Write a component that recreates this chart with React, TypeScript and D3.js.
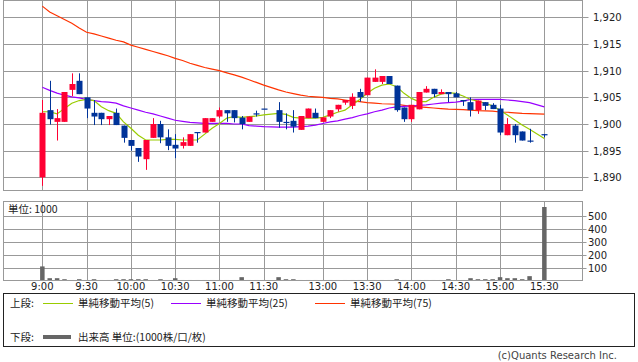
import React, { useRef, useEffect } from 'react'
import * as d3 from 'd3'

// 5-minute bars (morning 9:00-11:30, afternoon 12:30-15:30)
const times = [
  '9:00', '9:05', '9:10', '9:15', '9:20', '9:25', '9:30', '9:35', '9:40', '9:45', '9:50', '9:55',
  '10:00', '10:05', '10:10', '10:15', '10:20', '10:25', '10:30', '10:35', '10:40', '10:45', '10:50', '10:55',
  '11:00', '11:05', '11:10', '11:15', '11:20', '11:25', '11:30',
  '12:30', '12:35', '12:40', '12:45', '12:50', '12:55',
  '13:00', '13:05', '13:10', '13:15', '13:20', '13:25', '13:30', '13:35', '13:40', '13:45', '13:50', '13:55',
  '14:00', '14:05', '14:10', '14:15', '14:20', '14:25', '14:30', '14:35', '14:40', '14:45', '14:50', '14:55',
  '15:00', '15:05', '15:10', '15:15', '15:20', '15:30'
]

const opens = [
  1890.0, 1902.6, 1900.4, 1900.4, 1906.4, 1908.1, 1905.0, 1902.1, 1902.1, 1900.9, 1902.1, 1899.7,
  1897.0, 1895.5, 1893.4, 1897.4, 1900.0, 1897.5, 1896.1, 1895.9, 1895.9, 1898.5, 1898.4, 1900.4,
  1901.4, 1902.6, 1902.6, 1901.2, 1900.4, 1902.0, 1902.9,
  1902.6, 1900.4, 1900.6, 1898.9, 1901.1, 1902.1,
  1900.4, 1901.4, 1902.75, 1904.0, 1903.4, 1906.0, 1905.4, 1907.9, 1907.9, 1909.0, 1907.2, 1903.1,
  1900.9, 1902.75, 1905.9, 1906.6, 1905.6, 1906.0, 1905.75, 1904.5, 1904.1, 1902.6, 1904.1, 1903.6,
  1902.9, 1897.9, 1899.7, 1898.6, 1896.9, 1898.1
]
const highs = [
  1904.5, 1908.1, 1902.8, 1906.0, 1909.5, 1909.5, 1905.0, 1904.5, 1902.1, 1901.5, 1902.9, 1899.7,
  1897.0, 1895.5, 1897.0, 1901.1, 1900.6, 1899.0, 1898.1, 1897.5, 1898.1, 1898.5, 1901.1, 1901.1,
  1903.1, 1902.6, 1902.6, 1901.5, 1901.4, 1902.5, 1902.9,
  1904.1, 1902.0, 1902.6, 1901.5, 1902.9, 1902.9,
  1901.25, 1902.6, 1903.6, 1904.5, 1905.75, 1906.6, 1908.7, 1910.25, 1909.0, 1909.0, 1907.2, 1903.1,
  1903.6, 1906.0, 1907.1, 1906.6, 1906.5, 1906.0, 1906.0, 1904.5, 1905.0, 1904.4, 1904.1, 1903.9,
  1903.6, 1901.1, 1900.0, 1898.6, 1899.1, 1898.1
]
const lows = [
  1888.4, 1899.9, 1896.9, 1900.4, 1905.2, 1905.6, 1901.1, 1899.8, 1899.8, 1899.8, 1899.8, 1896.5,
  1895.0, 1892.9, 1891.4, 1897.4, 1896.4, 1895.1, 1893.6, 1895.4, 1895.9, 1896.5, 1898.4, 1900.4,
  1901.1, 1900.4, 1900.3, 1899.0, 1900.4, 1901.4, 1902.9,
  1899.3, 1899.0, 1898.4, 1898.9, 1901.1, 1901.1,
  1900.4, 1901.1, 1902.3, 1903.6, 1902.8, 1904.2, 1905.4, 1907.9, 1907.5, 1907.5, 1902.3, 1900.4,
  1900.4, 1902.75, 1905.9, 1905.0, 1905.6, 1904.1, 1905.0, 1903.4, 1901.4, 1901.9, 1902.6, 1902.8,
  1897.9, 1897.9, 1896.5, 1896.9, 1896.5, 1897.5
]
const closes = [
  1902.1, 1900.9, 1901.1, 1906.0, 1907.5, 1905.6, 1902.9, 1901.4, 1900.9, 1901.5, 1899.8, 1897.4,
  1895.9, 1893.9, 1897.0, 1900.0, 1897.5, 1895.9, 1895.4, 1896.6, 1898.1, 1898.5, 1901.1, 1901.1,
  1902.6, 1902.0, 1901.1, 1900.0, 1901.4, 1902.0, 1902.9,
  1900.4, 1900.4, 1899.5, 1901.5, 1902.9, 1901.1,
  1901.25, 1902.6, 1903.6, 1904.5, 1905.1, 1905.0, 1908.7, 1908.7, 1909.0, 1907.5, 1902.6, 1900.9,
  1903.6, 1906.0, 1906.6, 1905.6, 1906.0, 1905.6, 1905.0, 1904.25, 1902.6, 1904.4, 1903.4, 1902.8,
  1898.4, 1900.0, 1897.9, 1896.9, 1896.9, 1898.1
]
const volumes = [
  110, 18, 18, 10, 4, 10, 4, 10, 4, 4, 10, 10,
  10, 10, 10, 4, 10, 4, 18, 4, 4, 4, 4, 4,
  4, 4, 4, 26, 4, 4, 4,
  26, 10, 10, 4, 4, 4,
  4, 4, 4, 4, 4, 4, 4, 4, 4, 4, 10, 4,
  4, 4, 4, 4, 4, 10, 4, 4, 18, 10, 10, 10,
  26, 18, 18, 10, 34, 574
]
const ma5 = [
  1902.3, 1902.3, 1901.9, 1902.9, 1903.9, 1904.4, 1904.6, 1904.4, 1903.25, 1902.5, 1902.0, 1900.4,
  1899.2, 1897.9, 1897.0, 1897.0, 1897.0, 1897.1, 1897.1, 1897.0, 1897.0, 1897.0, 1898.1, 1899.2,
  1900.1, 1901.1, 1901.4, 1901.25, 1901.4, 1901.5, 1901.7,
  1902.0, 1901.8, 1901.25, 1901.1, 1901.1, 1901.1,
  1901.25, 1901.7, 1902.2, 1902.6, 1903.6, 1904.6, 1905.75, 1906.7, 1907.3, 1907.5, 1907.0, 1905.75,
  1904.8, 1904.2, 1904.2, 1905.0, 1905.6, 1905.9, 1905.75, 1905.25, 1904.6, 1904.3, 1903.9, 1903.4,
  1902.6, 1901.7, 1900.75, 1899.8, 1899.0, 1897.3
]
const ma25 = [
  1906.9, 1906.3, 1905.8, 1905.4, 1905.1, 1904.9, 1904.6, 1904.4, 1904.2, 1904.1, 1903.9, 1903.4,
  1903.0, 1902.6, 1902.2, 1901.9, 1901.5, 1901.1, 1900.7, 1900.5, 1900.3, 1900.2, 1900.1, 1900.1,
  1900.1, 1900.1, 1900.0, 1900.0, 1899.7, 1899.6, 1899.5,
  1899.4, 1899.4, 1899.4, 1899.5, 1899.6, 1899.8,
  1900.1, 1900.4, 1900.6, 1900.9, 1901.2, 1901.6, 1901.9, 1902.3, 1902.6, 1903.0, 1903.2, 1903.3,
  1903.4, 1903.5, 1903.6, 1903.75, 1903.9, 1904.0, 1904.1, 1904.3, 1904.6, 1904.6, 1904.6, 1904.6,
  1904.6, 1904.5, 1904.4, 1904.2, 1904.0, 1903.2
]
const ma75 = [
  1922.1, 1921.0, 1920.3, 1919.6, 1918.9, 1918.0, 1917.2, 1916.9, 1916.5, 1916.1, 1915.7, 1915.4,
  1914.8, 1914.4, 1914.0, 1913.6, 1913.2, 1912.8, 1912.3, 1911.9, 1911.4, 1911.0, 1910.6, 1910.3,
  1910.0, 1909.6, 1909.2, 1908.8, 1908.3, 1907.8, 1907.3,
  1906.4, 1906.0, 1905.7, 1905.4, 1905.2, 1905.1,
  1905.0, 1904.8, 1904.7, 1904.5, 1904.3, 1904.2, 1904.0, 1903.9, 1903.8, 1903.75, 1903.7, 1903.5,
  1903.3, 1903.2, 1903.1, 1903.0, 1902.9, 1902.8, 1902.75, 1902.7, 1902.6, 1902.5, 1902.45, 1902.4,
  1902.25, 1902.2, 1902.1, 1902.0, 1901.95, 1901.85
]

const timeTicks = ['9:00', '9:30', '10:00', '10:30', '11:00', '11:30', '13:00', '13:30', '14:00', '14:30', '15:00', '15:30']
const priceTicks = [1890, 1895, 1900, 1905, 1910, 1915, 1920]
const volumeTicks = [100, 200, 300, 400, 500]

const UP = '#ff0033'
const DOWN = '#003399'
const GRID = '#999999'
const JP = "'Noto Sans CJK JP', 'Noto Sans', sans-serif"
const NUM = "'DejaVu Sans', sans-serif"

// slot index on the x axis, lunch break squeezed into one empty slot
const slotOf = (t: string) => {
  const [h, m] = t.split(':').map(Number)
  const mins = h * 60 + m
  return mins <= 690 ? (mins - 540) / 5 : (mins - 750) / 5 + 32
}

const App = () => {
  const svgRef = useRef<SVGSVGElement>(null)

  useEffect(() => {
    const svg = d3.select(svgRef.current)
    svg.selectAll('*').remove()

    const left = 3.5
    const right = 582.5
    const x = d3.scaleLinear().domain([0, 68]).range([42.3, 544.3])
    const y = d3.scaleLinear().domain([1887.53, 1923.16]).range([190.5, 0.5])
    const yv = d3.scaleLinear().domain([0, 617]).range([280.5, 201.5])

    const bars = times.map((t, i) => ({
      slot: slotOf(t),
      o: opens[i], h: highs[i], l: lows[i], c: closes[i],
      v: volumes[i], m5: ma5[i], m25: ma25[i], m75: ma75[i]
    }))

    // ---- top panel grid
    const top = svg.append('g')
    top.selectAll('.hg').data(priceTicks).enter().append('line')
      .attr('x1', left).attr('x2', right + 6)
      .attr('y1', d => Math.round(y(d)) + 0.5).attr('y2', d => Math.round(y(d)) + 0.5)
      .attr('stroke', GRID)
    top.selectAll('.vg').data(timeTicks).enter().append('line')
      .attr('x1', d => Math.round(x(slotOf(d))) + 0.5).attr('x2', d => Math.round(x(slotOf(d))) + 0.5)
      .attr('y1', 0.5).attr('y2', 190.5)
      .attr('stroke', GRID)
    top.append('rect')
      .attr('x', left).attr('y', 0.5).attr('width', right - left).attr('height', 190)
      .attr('fill', 'none').attr('stroke', GRID)
    top.selectAll('.pl').data(priceTicks).enter().append('text')
      .attr('x', 593).attr('y', d => y(d) + 4)
      .attr('font-family', NUM).attr('font-size', 10).attr('fill', '#222')
      .text(d => d3.format(',')(d))

    // ---- moving averages
    const maLine = (key: 'm5' | 'm25' | 'm75') => d3.line<typeof bars[0]>()
      .x(d => x(d.slot)).y(d => y(d[key]))
    const mas: [('m5' | 'm25' | 'm75'), string][] = [['m75', '#ff3300'], ['m25', '#9900ff'], ['m5', '#99cc00']]
    mas.forEach(([key, color]) => {
      top.append('path')
        .attr('d', maLine(key)(bars))
        .attr('fill', 'none').attr('stroke', color).attr('stroke-width', 1.2)
    })

    // ---- candles
    const candles = top.selectAll('.candle').data(bars).enter().append('g')
    candles.append('line')
      .attr('x1', d => Math.round(x(d.slot)) + 0.5).attr('x2', d => Math.round(x(d.slot)) + 0.5)
      .attr('y1', d => y(d.h)).attr('y2', d => y(d.l))
      .attr('stroke', d => (d.c > d.o ? UP : DOWN))
    candles.append('rect')
      .attr('x', d => Math.round(x(d.slot)) - 2.5)
      .attr('y', d => y(Math.max(d.o, d.c)))
      .attr('width', 6)
      .attr('height', d => Math.max(1.2, y(Math.min(d.o, d.c)) - y(Math.max(d.o, d.c))))
      .attr('fill', d => (d.c > d.o ? UP : DOWN))

    // ---- volume panel
    const vol = svg.append('g')
    vol.selectAll('.hg').data(volumeTicks).enter().append('line')
      .attr('x1', left).attr('x2', right + 4)
      .attr('y1', d => Math.round(yv(d)) + 0.5).attr('y2', d => Math.round(yv(d)) + 0.5)
      .attr('stroke', GRID)
    vol.selectAll('.vg').data(timeTicks).enter().append('line')
      .attr('x1', d => Math.round(x(slotOf(d))) + 0.5).attr('x2', d => Math.round(x(slotOf(d))) + 0.5)
      .attr('y1', 201.5).attr('y2', 280.5)
      .attr('stroke', GRID)
    vol.selectAll('.bar').data(bars).enter().append('rect')
      .attr('x', d => x(d.slot) - 2.2)
      .attr('y', d => yv(d.v))
      .attr('width', 4.5)
      .attr('height', d => yv(0) - yv(d.v))
      .attr('fill', '#666666')
    vol.append('rect')
      .attr('x', left).attr('y', 201.5).attr('width', right - left).attr('height', 79)
      .attr('fill', 'none').attr('stroke', GRID)
    vol.selectAll('.vl').data(volumeTicks).enter().append('text')
      .attr('x', 588).attr('y', d => yv(d) + 4)
      .attr('font-family', NUM).attr('font-size', 10).attr('fill', '#222')
      .text(d => d)
    vol.append('text')
      .attr('x', 8).attr('y', 213)
      .attr('font-family', JP).attr('font-size', 10.5).attr('fill', '#222')
      .text('単位: 1000')

    // ---- time axis labels
    svg.selectAll('.tl').data(timeTicks).enter().append('text')
      .attr('x', d => x(slotOf(d))).attr('y', 290)
      .attr('text-anchor', 'middle')
      .attr('font-family', NUM).attr('font-size', 10).attr('fill', '#222')
      .text(d => d)

    // ---- legend
    const lg = svg.append('g')
    lg.append('rect')
      .attr('x', 3.5).attr('y', 293.5).attr('width', 631).attr('height', 53)
      .attr('fill', 'none').attr('stroke', '#222')
    const items: [number, string, string][] = [
      [43, '#99cc00', '単純移動平均(5)'],
      [171, '#9900ff', '単純移動平均(25)'],
      [315, '#ff3300', '単純移動平均(75)']
    ]
    lg.append('text').attr('x', 10).attr('y', 307)
      .attr('font-family', JP).attr('font-size', 10.5).attr('fill', '#222').text('上段:')
    items.forEach(([lx, color, label]) => {
      lg.append('line').attr('x1', lx).attr('x2', lx + 30).attr('y1', 303.5).attr('y2', 303.5)
        .attr('stroke', color)
      lg.append('text').attr('x', lx + 35).attr('y', 307)
        .attr('font-family', JP).attr('font-size', 10.5).attr('fill', '#222').text(label)
    })
    lg.append('text').attr('x', 10).attr('y', 341)
      .attr('font-family', JP).attr('font-size', 10.5).attr('fill', '#222').text('下段:')
    lg.append('line').attr('x1', 43).attr('x2', 71).attr('y1', 337).attr('y2', 337)
      .attr('stroke', '#666666').attr('stroke-width', 4)
    lg.append('text').attr('x', 78).attr('y', 341)
      .attr('font-family', JP).attr('font-size', 10.5).attr('fill', '#222').text('出来高 単位:(1000株/口/枚)')

    svg.append('text')
      .attr('x', 617).attr('y', 359).attr('text-anchor', 'end')
      .attr('font-family', NUM).attr('font-size', 10).attr('fill', '#444')
      .text('(c)Quants Research Inc.')
  }, [])

  return (
    <svg
      ref={svgRef}
      width={638}
      height={362}
      style={{ position: 'absolute', left: 0, top: 0, background: '#fff' }}
    />
  )
}

export default App
